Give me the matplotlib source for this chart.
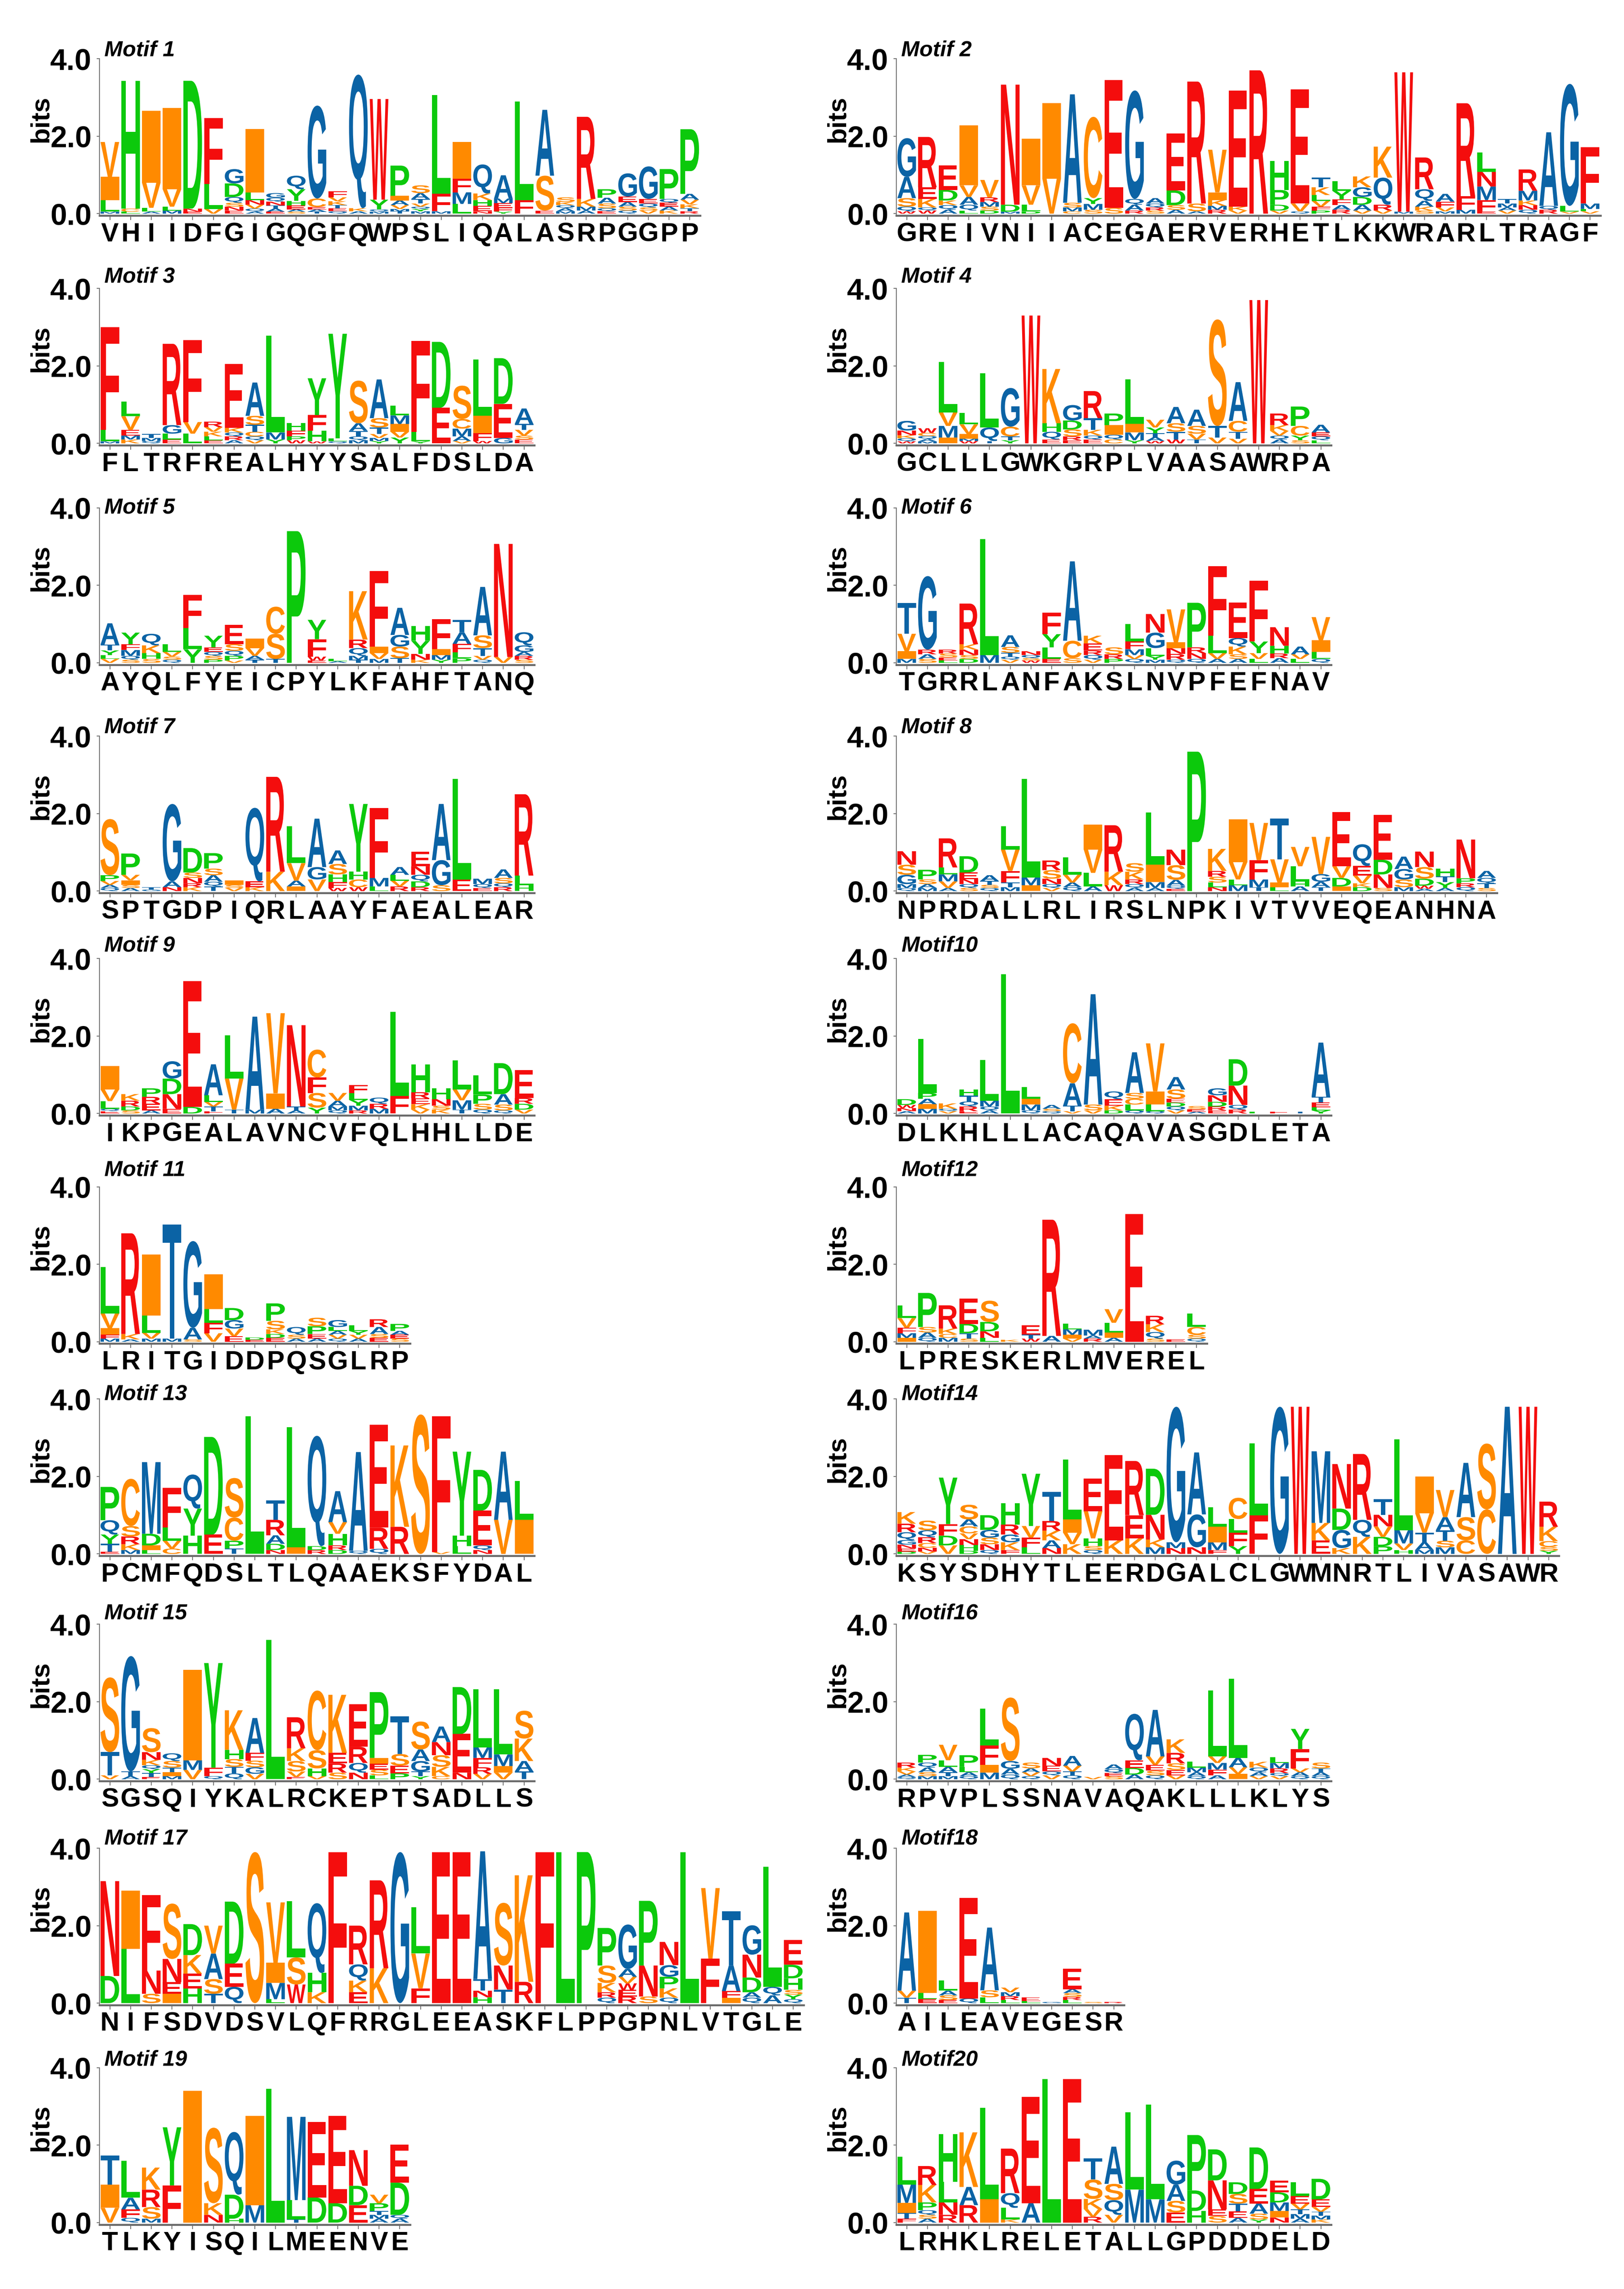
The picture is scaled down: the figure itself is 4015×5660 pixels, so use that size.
import matplotlib
matplotlib.use("Agg")
import matplotlib.pyplot as plt
import matplotlib.transforms as mtransforms
from matplotlib.textpath import TextPath
from matplotlib.patches import PathPatch
from matplotlib.font_manager import FontProperties

plt.rcParams['font.family'] = ['Liberation Sans', 'DejaVu Sans']

# ---------------- data: consensus labels and letter stacks (letter + bits) ----------------
motif1_seq = "VHIIDFGIGQGFQWPSLIQALASRPGGPP"
motif1_stacks = ["M.05 L.3 I.6 V.9", "L.05 C.08 H3.3", "A.05 L.1 V.65 I1.85", "M.08 L.1 V.45 I2.1",
    "E.05 N.08 D3.3", "V.12 L.65 F1.7", "N.1 E.08 S.1 Q.15 D.35 G.37", "Q.08 A.05 N.12 V.1 L.2 I1.63",
    "E.05 A.08 T.08 N.1 Q.1 G.12", "S.05 A.06 E.1 H.12 Y.3 Q.35", "A.06 T.05 E.06 C.22 G2.4",
    "Q.06 K.1 E.08 V.1 T.08 F.16", "K.08 A.06 Q3.45", "Q.06 M.05 Y.25 W2.6", "T.06 M.06 V.1 A.12 I.12 P.78",
    "M.06 V.08 T.12 A.15 S.2 Y.06 Q.06", "M.06 F.45 L2.55", "F.35 L.25 M.3 I.95", "N.06 H.15 E.14 K.17 Q.75",
    "Y.05 F.1 E.12 M.12 A.6", "F.35 L2.55", "E.08 S.9 A1.7", "M.06 A.08 Q.08 K.08 S.12", "A.08 M.1 K.2 R2.12",
    "E.06 Q.08 S.12 A.15 P.22", "S.1 Q.08 A.12 E.14 G.6", "V.08 S.08 Q.1 E.12 G.84", "K.08 A.1 E.1 Q.1 P.77",
    "R.06 T.08 K.1 V.12 A.15 P1.67"]

motif2_seq = "GREIVNIIACEGAERVERHETLKKWRARLTRAGF"
motif2_stacks = ["W.06 Q.12 S.22 A.55 G1.0", "W.08 Q.08 K.22 E.3 R1.3", "A.1 Q.12 K.12 D.27 E.63",
    "L.08 A.2 Q.15 V.3 I1.55", "D.08 S.1 M.12 R.12 V.45", "M.05 D.18 N3.1", "D.06 L.17 V.5 I1.2", "V.9 I1.95",
    "C.06 S.12 M.1 A2.8", "S.1 M.15 Y.15 C2.1", "S.15 E3.3", "R.08 A.15 Q.15 G2.8", "S.08 R.08 Q.1 A.14",
    "S.12 A.1 D.38 E1.47", "A.06 S.2 R3.15", "R.1 M.1 K.15 I.2 V1.1", "V.08 K.1 E3.0", "R3.7",
    "V.08 D.15 P.38 H.75", "Q.06 V.2 E2.95", "P.08 F.1 V.15 L.15 K.2 T.25", "R.1 A.12 F.15 Y.22 L.25",
    "V.08 A.15 D.2 G.25 K.28", "V.08 R.15 Q.7 K.8", "M.05 W3.6", "K.1 S.08 A.15 Q.3 R.82", "M.06 F.15 V.1 A.2",
    "M.1 F.35 R2.4", "E.05 F.3 M.35 N.38 L.5", "V.08 A.08 M.1 T.12", "Q.1 N.12 K.12 M.25 R.55",
    "R.1 Q.1 A1.9", "V.05 L.15 G3.15", "V.06 L.06 M.14 F1.45"]

motif3_seq = "FLTRFREALHYYSALFDSLDA"
motif3_stacks = ["M.05 L.3 F2.65", "K.1 M.1 E.15 V.35 L.38", "Q.06 M.08 T.1", "L.15 E.1 G.22 R2.1",
    "L.25 V.3 F2.12", "E.08 L.1 K.12 V.12 R.14", "R.1 A.08 Q.1 K.12 E1.65", "V.08 Q.1 C.12 T.18 S.23 A.86",
    "Y.1 M.18 L2.5", "W.08 P.1 F.15 H.2", "W.05 F.4 H.28 Y.95", "Q.05 L.08 Y2.7", "M.08 Q.1 A.2 T.14 S1.1",
    "Y.06 M.08 V.1 T.17 S.24 A1.0", "Y.15 V.15 M.22 I.2 L.25", "Y.05 L.25 F2.35", "E.92 D1.7",
    "V.06 A.12 C.25 M.2 S.86", "W.06 F.2 I.45 L1.45", "G.14 E.88 D1.18", "E.1 S.1 V.15 T.15 A.4"]

motif4_seq = "GCLLLGWKGRPLVAASAWRPA"
motif4_stacks = ["W.05 Q.08 K.08 N.12 G.25", "M.05 A.06 Q.08 C.08 W.12", "M.3 I.15 V.35 L1.3",
    "W.06 M.06 I.12 V.25 L.3", "T.06 Q.35 L1.4", "Y.08 T.1 C.25 G1.0", "W3.3", "E.1 Q.2 H.22 K1.4",
    "R.1 E.08 S.18 D.23 G.4", "E.1 Q.1 K.15 T.3 R.7", "C.1 Q.12 I.25 P.3", "Y.08 M.2 I.22 L1.15",
    "W.06 A.1 T.1 Y.15 V.2", "W.1 T.2 S.22 A.42", "T.1 S.2 V.15 A.42", "T.3 V.15 S2.75", "V.12 T.18 C.28 A1.0",
    "W3.7", "A.1 Q.1 V.12 K.15 R.3", "S.08 Y.12 C.25 P.5", "L.08 Q.1 E.1 A.2"]

motif5_seq = "AYQLFYEICPYLKFAHFTANQ"
motif5_stacks = ["V.1 L.1 Y.12 T.15 A.55", "S.08 Q.1 M.15 F.15 Y.3", "S.1 H.15 K.2 Q.3", "Q.08 S.08 V.12 L.2",
    "Y.35 L.55 F.85", "P.08 S.1 Q.1 E.12 Y.3", "V.06 P.12 Q.13 S.17 E.5", "T.08 A.1 V.2 I.25", "T.1 S.65 C.7",
    "P3.4", "E.06 W.1 F.45 Y.5", "A.04 L.06", "M.1 T.08 R.22 Q.2 K1.25", "M.1 V.15 I.17 F1.95",
    "T.12 S.3 G.3 A.7", "K.08 N.15 Y.34 H.38", "Y.08 I.15 M.12 F.78", "P.12 L.15 F.22 A.3 T.32",
    "Q.08 V.1 T.2 S.33 A1.25", "V.15 N2.92", "S.08 R.1 A.1 G.17 Q.34"]

motif6_seq = "TGRRLANFAKSLNVPFEFNAV"
motif6_stacks = ["M.1 I.2 V.45 T.8", "S.1 A.12 R.12 G1.9", "L.06 E.08 S.1 R.1", "D.1 S.1 N.14 K.14 R1.05",
    "M.2 L3.0", "V.08 Q.08 T.1 S.15 A.3", "W.06 S.06 Q.08 N.1", "E.1 L.3 Y.34 F.55", "S.12 C.45 A2.05",
    "V.08 Q.12 R.12 E.18 K.2", "P.1 R.12 S.18", "Q.1 V.1 M.15 F.2 L.45", "M.08 Y.1 L.2 G.4 N.48",
    "Q.08 R.15 N.15 I.15 V.85", "Q.1 N.15 R.15 P1.15", "A.1 V.15 L.45 F1.8", "A.1 S.12 K.2 Q.22 E.92",
    "L.1 V.15 Y.3 F1.57", "A.12 R.12 H.2 N.48", "L.1 V.12 A.2", "Q.1 L.18 I.3 V.6"]

motif7_seq = "SPTGDPIQRLAAYFAEALEAR"
motif7_stacks = ["Q.08 A.08 V.1 P.15 S1.45", "A.08 S.08 I.12 V.14 P.55", "G.04 T.06", "N.1 A.15 G2.0",
    "K.1 R.1 N.14 S.14 D.63", "T.12 Q.12 A.17 S.17 P.4", "V.08 S.08 I.12", "K.1 E.15 Q1.9", "K.5 R2.45",
    "A.15 I.12 V.45 L.95", "V.3 G.32 A1.25", "W.08 S.27 F.15 H.2 A.35", "W.1 C.2 H.2 Y1.75", "L.12 M.22 F1.8",
    "R.12 V.15 L.15 A.2", "R.1 N.22 Q.17 D.15 E.38", "S.15 G.65 A1.45", "E.3 L2.6", "E.08 Q.1 M.14",
    "R.1 Q.1 S.14 A.22", "H.15 L.25 R2.1"]

motif8_seq = "NPRDALLRLIRSLNPKIVTVVEQEANHNA"
motif8_stacks = ["Q.08 M.1 G.24 S.26 N.35", "M.08 A.1 S.12 P.25", "A.08 M.18 L.18 V.17 R.75",
    "S.08 Q.1 N.13 E.17 D.42", "Q.08 S.08 T.1 A.15", "M.1 T.12 F.3 V.55 L.6", "M.2 I.15 L2.55",
    "V.08 Q.1 N.14 S.22 R.25", "Q.1 A.12 V.2 L.45", "A.12 L.35 V.6 I.65", "W.15 K.35 R1.2",
    "A.08 Q.1 R.12 K.2 S.22", "A.08 M.15 I.45 L1.35", "E.06 Q.08 A.15 S.38 N.4", "P3.6",
    "N.1 L.12 S.15 R.15 K.57", "M.15 L.15 V.45 I1.1", "T.1 M.2 F.5 V.96", "I.12 L.1 V.6 T1.05",
    "A.12 H.12 L.4 V.5", "T.1 A.14 G.2 V.96", "V.3 I.12 D.22 E1.4", "D.1 K.1 E.25 V.2 Q.56",
    "S.08 D.38 N.35 E1.16", "M.1 S.2 G.27 A.32", "A.06 W.08 D.18 S.3 N.4", "A.08 Y.15 T.15 H.2",
    "Q.1 R.1 P.13 N1.0", "S.08 T.12 Q.14 A.18"]

motif9_seq = "IKPGEALAVNCVFQLHHLLDE"
motif9_stacks = ["E.06 Q.06 L.2 V.3 I.6", "S.08 D.1 R.15 K.17", "A.08 R.18 E.17 P.22", "E.12 D.4 N.38 G.45",
    "D.17 E3.25", "F.06 T.12 V.12 L.17 A.8", "T.1 V.8 L1.12", "M.1 A2.4", "A.12 I.4 V2.07", "A.08 T.1 N2.1",
    "Y.15 F.4 S.38 C.72", "Q.08 M.1 A.15 V.2", "R.08 M.12 Y.15 L.18 F.2", "M.12 R.13 Q.16", "F.45 L2.17",
    "V.1 R.16 E.15 K.14 H.72", "K.1 S.1 N.17 H.28", "T.1 V.28 M.24 L.75", "Q.1 S.15 P.24 L.5",
    "Q.08 S.15 A.27 D.8", "V.1 D.15 R.15 E.72"]

motif10_seq = "DLKHLLLACAQAVASGDLETA"
motif10_stacks = ["A.06 N.08 W.08 D.15", "M.12 I.12 P.15 A.14 L1.4", "V.06 Q.06 K.14", "E.06 R.12 Q.13 T.15 H.16",
    "A.08 Q.1 M.15 L1.05", "L3.6", "Q.08 M.15 I.15 L.3", "Q.06 S.06 A.1", "V.06 T.14 A.58 C1.55",
    "V.08 S.15 A2.85", "D.08 K.12 E.17 Q.2", "Q.08 L.15 C.15 S.15 A1.05", "Q.06 L.17 I.34 V1.24",
    "V.08 Q.1 D.1 E.1 S.24 A.32", "A.05 E.06 S.08", "E.08 R.1 D.12 N.17 G.18", "R.1 Q.12 N.5 D.68",
    "L.05", "E.05", "T.05", "Y.08 L.08 E.12 T.15 A1.4"]

motif11_seq = "LRITGIDDPQSGLRP"
motif11_stacks = ["M.08 F.1 I.17 V.38 L1.2", "A.06 K.14 R2.6", "M.08 V.15 L.45 I1.57", "M.08 T2.95",
    "S.06 A.3 G2.24", "L.35 F.27 V.22 I.9", "V.2 E.14 G.22 D.31", "E.05 D.06", "E.1 D.1 K.12 S.22 P.45",
    "A.08 S.1 Q.2", "A.08 E.12 P.2 S.22", "Q.08 V.1 A.1 L.1 G.18", "A.08 V.1 Y.1 L.14", "E.1 S.1 A.18 R.2",
    "S.08 E.1 A.1 P.18"]

motif12_seq = "LPRESKERLMVEREL"
motif12_stacks = ["I.1 M.12 F.14 V.25 L.33", "Q.1 A.14 S.14 P.88", "M.1 C.1 K.14 R.6", "S.08 T.14 D.24 E.65",
    "L.1 N.17 D.24 S.55", "K.05", "W.08 T.1 E.24", "A.15 R3.0", "V.08 M.14 I.1 L.15", "R.08 A.08 M.15",
    "A.1 L.25 I.14 V.35", "E3.3", "S.08 K.2 Q.17 R.22", "E.06", "Q.08 S.1 C.2 L.35"]

motif13_seq = "PCMFQDSLTLQAAEKSFYDAL"
motif13_stacks = ["E.06 T.2 Y.24 Q.37 P.86", "K.15 M.1 R.2 S.27 C1.22", "I.12 L.1 D.3 M1.85",
    "V.2 C.14 L.34 F1.03", "H.47 Y.7 Q.88", "E.5 D2.52", "P.2 T.14 C.6 S1.02", "L3.55",
    "N.1 D.16 A.22 R.4 T.5", "I.17 L3.1", "R.1 D.1 Q2.85", "R.12 D.1 H.3 V.3 A.8", "Q.08 A2.55",
    "Q.13 R.55 E2.65", "R.7 K2.1", "S3.6", "V.05 F3.5", "L.2 H.27 Y2.17", "N.1 Q.12 E.9 D1.05",
    "V.88 A1.76", "I.88 L1.0"]

motif14_seq = "KSYSDHYTLEERDGALCLGWMNRTLIVASAWR"
motif14_stacks = ["D.06 E.08 N.1 G.12 Q.2 R.22 K.3", "V.06 N.1 C.12 R.15 Q.18 S.25", "D.25 F.3 V.22 Y1.2",
    "D.08 H.15 N.15 V.15 C.18 A.18 S.38", "Q.1 S.17 N.15 G.2 D.38", "F.1 K.2 G.2 R.26 H.55",
    "F.25 L.17 V.3 Y1.35", "K.25 N.15 A.2 R.25 T.75", "I.34 K.25 V.3 L1.55", "Q.1 S.1 H.2 V.7 E.85",
    "K.35 E2.2", "K.4 E.6 R1.4", "K.2 M.17 N.64 D1.19", "N.15 M.15 G3.5", "N.17 G.85 A1.6",
    "F.1 M.2 I.4 L.5", "F.35 L.35 Y.2 C.55", "F1.0 L1.85", "G3.8", "W3.8", "E.35 K.45 M1.85",
    "K.15 D.55 G.47 N1.15", "K.44 Q.44 R1.7", "P.2 D.24 V.27 N.3 T.4", "V.17 H.1 M.34 L2.35",
    "M.1 A.2 T.25 V.5 I.95", "M.17 S.17 T.27 A.34 V.7", "C.35 S.6 A1.4", "C1.15 S1.7", "A3.8", "W3.8",
    "S.1 Y.08 C.15 K.37 R.65"]

motif15_seq = "SGSQIYKALRCKEPTSADLLS"
motif15_stacks = ["V.1 T.6 S1.93", "A.08 T.12 G2.98", "E.06 T.1 Y.1 Q.1 K.14 N.2 S.62", "M.08 I.1 T.12 S.17 Q.2",
    "V.24 M.25 I2.33", "Q.08 F.22 Y2.7", "Q.15 S.2 H.24 T.17 K1.02", "G.17 F.2 V.14 S.17 A.9", "L3.6",
    "E.06 V.14 S.27 K.33 R.8", "V.08 H.2 S.47 C1.54", "S.17 R.24 E.27 K1.5", "N.17 Q.25 R.42 E1.1",
    "S.15 E.15 I.15 L.1 P1.7", "P.15 E.2 S.3 T.97", "Y.08 T.12 G.27 A.3 S.72", "C.08 S.3 N.34 K.24 A.4",
    "N.17 E1.0 D1.21", "V.14 R.17 F.24 M.27 L1.5", "V.17 I.17 M.3 L1.68", "T.2 A.27 K.58 S.72"]

motif16_seq = "RPVPLSSNAVAQAKLLLKLYS"
motif16_stacks = ["Q.06 A.06 V.08 K.1 R.13", "M.08 S.1 A.12 Q.13 P.2", "M.08 T.1 A.14 L.17 V.4",
    "Q.08 A.1 L.14 P.3", "M.17 I.2 F.5 L.95", "Q.12 A.15 G.2 S1.64", "Q.08 V.1 A.1 S.15", "V.1 Q.1 E.15 N.2",
    "Q.1 T.1 V.15 A.25", "V.06", "S.08 E.08 Q.1 A.12", "A.12 D.17 E.2 Q1.2", "Q.1 S.12 E.15 V.22 A1.2",
    "V.1 E.14 S.17 R.27 K.35", "Q.08 A.1 M.12 L.15", "A.1 F.15 M.17 V.17 L1.7", "I.14 A.24 V.17 L2.05",
    "V.08 A.1 Q.12 K.15", "V.08 Q.08 M.14 R.12 L.15", "Q.08 A.1 V.1 F.5 Y.52", "Q.08 A.1 T.1 S.15"]

motif17_seq = "NIFSDVDSVLQFRRGLEEASKFLPPGPNLVTGLE"
motif17_stacks = ["D.7 N2.45", "L1.4 I1.5", "S.24 N.6 F1.95", "I.24 E.3 N.6 S1.43", "H.38 E.38 K.48 D.8",
    "A.66 T.24 S.38 V.72", "Q.42 E.6 D1.6", "S3.9", "L.1 M.42 I.52 V1.56", "W.48 S.7 L1.45", "K.28 H.5 Q1.8",
    "F3.9", "E.28 K.3 Q.42 R1.0", "K.9 R2.27", "G3.9", "F.38 V.9 L1.2", "E3.9", "E3.9", "N.17 H.15 T.3 A3.3",
    "N.62 T.35 S1.62", "R.55 K2.75", "F3.9", "L3.9", "P3.9", "Q.14 R.14 K.24 S.45 P.97",
    "R.17 E.17 W.17 V.17 A.2 G1.15", "S.17 N.8 P1.67", "Q.14 K.24 P.3 G.3 N.6", "L3.9", "F1.15 V1.82",
    "I.14 F.17 A.66 T1.4", "Q.14 A.14 D.38 N.59 G.76", "Q.22 A.2 L3.1", "Q.1 Y.12 S.12 H.3 D.35 E.64"]

motif18_seq = "AILEAVEGESR"
motif18_stacks = ["T.14 V.18 A2.02", "E.1 L.16 I2.12", "E.08 S.12 A.12 L.27", "Q.12 E2.6", "L.15 S.18 A1.62",
    "L.08 R.1 M.1 V.12", "L.05 E.1", "G.03", "L.08 R.08 S.1 A.1 E.53", "S.03", "R.03"]

motif19_seq = "TLKYISQILMEENVE"
motif19_stacks = ["V.38 I.6 T.75", "Q.12 F.22 A.3 L.95", "M.1 S.3 R.45 K.57", "F.96 Y1.5", "I3.4",
    "N.2 K.3 S1.95", "H.1 D.62 Q1.62", "M.45 I2.3", "L3.45", "T.08 L.5 M2.15", "D.65 E1.95", "D.5 E2.25",
    "D.5 E.45 N.92", "A.1 M.1 T.1 P.2 V.22", "A.1 Q.1 D.83 E.98"]

motif20_seq = "LRHKLRELETALLGPDDDELD"
motif20_stacks = ["F.1 T.15 I.26 M.47 L.72", "A.1 S.1 Q.12 P.2 K.45 R.49", "R.2 N.32 L.53 H1.23",
    "A.47 R.45 K1.41", "I.6 L2.36", "K.08 Q.38 L.3 R1.15", "A.5 E2.75", "L3.7", "E3.7",
    "V.2 K.26 R.15 S.5 T.55", "V.2 Q.38 S.42 A.96", "M.85 L2.0", "M.6 L2.45", "S.3 E.26 A.42 G.62",
    "H.3 D.53 P1.43", "S.17 E.17 N.75 D.8", "A.12 T.2 S.25 E.17 D.3", "Y.08 S.15 A.26 E.38 D1.07",
    "M.22 N.13 I.17 D.26 E.3", "M.12 A.1 T.12 V.15 E.2 L.35", "K.08 M.1 T.1 V.12 E.2 D.53"]

titles = ["Motif 1", "Motif 2", "Motif 3", "Motif 4", "Motif 5", "Motif 6", "Motif 7", "Motif 8",
          "Motif 9", "Motif10", "Motif 11", "Motif12", "Motif 13", "Motif14", "Motif 15", "Motif16",
          "Motif 17", "Motif18", "Motif 19", "Motif20"]
seqs = [motif1_seq, motif2_seq, motif3_seq, motif4_seq, motif5_seq, motif6_seq, motif7_seq, motif8_seq,
        motif9_seq, motif10_seq, motif11_seq, motif12_seq, motif13_seq, motif14_seq, motif15_seq,
        motif16_seq, motif17_seq, motif18_seq, motif19_seq, motif20_seq]
stacks = [motif1_stacks, motif2_stacks, motif3_stacks, motif4_stacks, motif5_stacks, motif6_stacks,
          motif7_stacks, motif8_stacks, motif9_stacks, motif10_stacks, motif11_stacks, motif12_stacks,
          motif13_stacks, motif14_stacks, motif15_stacks, motif16_stacks, motif17_stacks, motif18_stacks,
          motif19_stacks, motif20_stacks]

# ---------------- style ----------------
RED, ORANGE, BLUE, GREEN = '#F40D0D', '#FF8A00', '#0B63A5', '#0CC90C'
colors = {}
for c in "RNEFW":
    colors[c] = RED
for c in "KCSVI":
    colors[c] = ORANGE
for c in "GQTMA":
    colors[c] = BLUE
for c in "DHYPL":
    colors[c] = GREEN

W, H = 4016, 5660
fig = plt.figure(figsize=(W / 100, H / 100), dpi=100)

row_zero_disp = [146, 303, 453, 609, 761, 917, 1062, 1216, 1369, 1519]
title_off = [0.22, 0.3, 0.0, 0.23, 0.33, 0.43, 0.12, 0.28, 0.25, 0.2]
SC = 3.618
BIT_PX = 95.75
COL_PX = 51.2
YMIN, YMAX = -0.05, 4.0
left_px = [246, 2216]

fp_glyph = FontProperties(family='Liberation Sans', weight='bold')
cache = {}


def glyph(ch):
    if ch not in cache:
        p = TextPath((0, 0), ch, size=1, prop=fp_glyph)
        cache[ch] = (p, p.get_extents())
    return cache[ch]


def draw_letter(ax, ch, x, y0, h, wfrac=0.9):
    p, ext = glyph(ch)
    t = (mtransforms.Affine2D().translate(-ext.x0, -ext.y0)
         .scale(wfrac / ext.width, h / ext.height).translate(x - wfrac / 2, y0))
    ax.add_patch(PathPatch(t.transform_path(p), facecolor=colors.get(ch, '#888888'),
                           edgecolor='none', lw=0))


def parse(s):
    return [(tok[0], float(tok[1:])) for tok in s.split()]


for m in range(20):
    row, side = m // 2, m % 2
    seq = seqs[m]
    n = len(seq)
    zero_px = row_zero_disp[row] * SC
    bot_px = zero_px - YMIN * BIT_PX
    top_px = zero_px - YMAX * BIT_PX
    lp = left_px[side]
    ax = fig.add_axes([lp / W, 1 - bot_px / H, n * COL_PX / W, (bot_px - top_px) / H])
    ax.set_xlim(-0.5, n - 0.5)
    ax.set_ylim(YMIN, YMAX)
    for i, st in enumerate(stacks[m]):
        y = 0.0
        for ch, h in sorted(parse(st), key=lambda t: t[1]):
            draw_letter(ax, ch, i, y, h)
            y += h
    for s in ['top', 'right']:
        ax.spines[s].set_visible(False)
    ax.spines['left'].set_color('#707070')
    ax.spines['left'].set_linewidth(1.6)
    ax.spines['bottom'].set_color('#6a6a6a')
    ax.spines['bottom'].set_linewidth(3.5)
    ax.set_yticks([0, 2, 4])
    ax.set_yticklabels(["0.0", "2.0", "4.0"], fontsize=53, fontweight='bold')
    ax.set_xticks(range(n))
    ax.set_xticklabels(list(seq), fontsize=47, fontweight='bold')
    ax.tick_params(axis='y', length=5, width=1.5, color='#707070', pad=9)
    ax.tick_params(axis='x', length=8, width=1.5, color='#707070', pad=4)
    tr = mtransforms.blended_transform_factory(fig.transFigure, ax.transData)
    ax.text((lp - 145) / W, 2.45, "bits", transform=tr, rotation=90, fontsize=47,
            fontweight='bold', ha='center', va='center')
    ax.text((lp + 12) / W, 4.0 + title_off[row], titles[m], transform=tr, fontsize=39,
            fontstyle='italic', fontweight='bold', ha='left', va='center',
            family=['Liberation Sans Narrow', 'Liberation Sans'])

fig.savefig("out.png", dpi=100, facecolor='white')
